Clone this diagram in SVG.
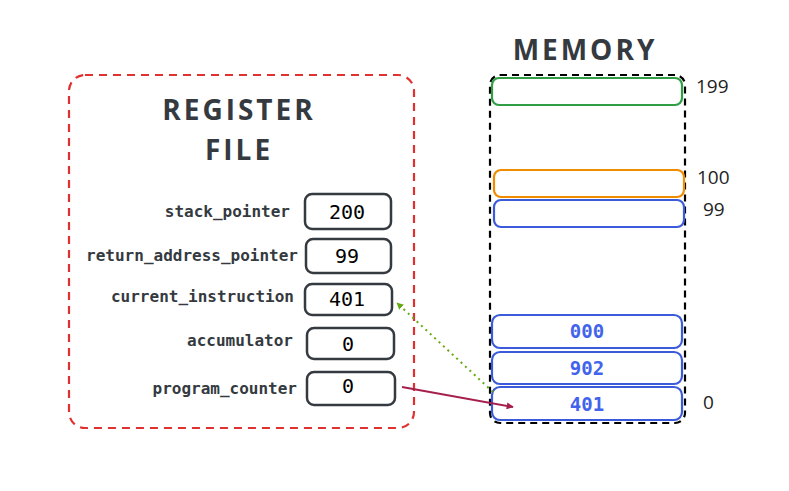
<svg xmlns="http://www.w3.org/2000/svg" width="789" height="491" viewBox="0 0 789 491">
<defs>
<style>
.title{font-family:"Open Sans","DejaVu Sans",sans-serif;font-size:28px;font-weight:bold;fill:#343a40;text-anchor:middle;letter-spacing:3px}
.hand{font-family:"Open Sans","DejaVu Sans",sans-serif;font-size:19px;fill:#1e1e1e}
.lbl{font-family:"DejaVu Sans Mono","Liberation Mono",monospace;font-size:16px;font-weight:bold;fill:#343a40;text-anchor:end}
.val{font-family:"DejaVu Sans Mono","Liberation Mono",monospace;font-size:20px;fill:#000;text-anchor:middle}
.mval{font-family:"DejaVu Sans Mono","Liberation Mono",monospace;font-size:19px;font-weight:bold;fill:#4263eb;text-anchor:middle}
.reg{fill:#fff;stroke:#343a40;stroke-width:2.5}
.cell{fill:#fff;stroke-width:2.2}
</style>
<marker id="ahRed" viewBox="0 0 10 10" refX="9" refY="5" markerWidth="7" markerHeight="7" orient="auto" markerUnits="userSpaceOnUse">
<path d="M0,0 L10,5 L0,10 z" fill="#a61e4d"/>
</marker>
<marker id="ahGreen" viewBox="0 0 10 10" refX="9" refY="5" markerWidth="7" markerHeight="7" orient="auto" markerUnits="userSpaceOnUse">
<path d="M0,0 L10,5 L0,10 z" fill="#66a80f"/>
</marker>
</defs>
<rect width="789" height="491" fill="#fff"/>

<g id="register-file">
<rect x="69" y="75" width="345" height="353" rx="16" fill="none" stroke="#e03131" stroke-width="2.2" stroke-dasharray="8 6"/>
<text class="title" x="239" y="120">REGISTER</text>
<text class="title" x="239" y="160">FILE</text>
</g>

<g id="reg-stack-pointer">
<text class="lbl" x="290" y="217">stack_pointer</text>
<rect class="reg" x="305" y="194" width="86" height="35" rx="7"/>
<text class="val" x="347" y="219">200</text>
</g>
<g id="reg-return-address-pointer">
<text class="lbl" x="298" y="261">return_address_pointer</text>
<rect class="reg" x="306" y="239" width="85" height="34" rx="7"/>
<text class="val" x="347" y="263">99</text>
</g>
<g id="reg-current-instruction">
<text class="lbl" x="294" y="302">current_instruction</text>
<rect class="reg" x="305" y="284" width="87" height="31" rx="7"/>
<text class="val" x="347" y="306">401</text>
</g>
<g id="reg-accumulator">
<text class="lbl" x="293" y="346">accumulator</text>
<rect class="reg" x="307" y="328" width="87" height="31" rx="7"/>
<text class="val" x="348" y="351">0</text>
</g>
<g id="reg-program-counter">
<text class="lbl" x="297" y="394">program_counter</text>
<rect class="reg" x="307" y="372" width="88" height="33" rx="7"/>
<text class="val" x="348" y="393">0</text>
</g>

<g id="memory">
<text class="title" x="585" y="60">MEMORY</text>
<rect x="490" y="75" width="195" height="348" rx="10" fill="none" stroke="#000" stroke-width="2.2" stroke-dasharray="7 5"/>
</g>
<g id="mem-199">
<rect class="cell" x="492" y="78" width="190" height="27" rx="7" stroke="#2f9e44"/>
<text class="hand" x="696" y="93">199</text>
</g>
<g id="mem-100">
<rect class="cell" x="494" y="170" width="190" height="27" rx="7" stroke="#f08c00"/>
<text class="hand" x="697" y="184">100</text>
</g>
<g id="mem-99">
<rect class="cell" x="494" y="200" width="190" height="27" rx="7" stroke="#3b5bdb"/>
<text class="hand" x="703" y="216">99</text>
</g>
<g id="mem-2">
<rect class="cell" x="492" y="315" width="190" height="33" rx="8" stroke="#3b5bdb"/>
<text class="mval" x="587" y="338">000</text>
</g>
<g id="mem-1">
<rect class="cell" x="492" y="352" width="190" height="32" rx="8" stroke="#3b5bdb"/>
<text class="mval" x="587" y="375">902</text>
</g>
<g id="mem-0">
<rect class="cell" x="492" y="387" width="190" height="33" rx="8" stroke="#3b5bdb"/>
<text class="mval" x="587" y="411">401</text>
<text class="hand" x="703" y="409">0</text>
</g>

<g id="connectors">
<line x1="402" y1="387" x2="513" y2="407" stroke="#a61e4d" stroke-width="2" marker-end="url(#ahRed)"/>
<line x1="493" y1="392" x2="397" y2="303" stroke="#66a80f" stroke-width="2" stroke-dasharray="2 4" marker-end="url(#ahGreen)"/>
</g>
</svg>
